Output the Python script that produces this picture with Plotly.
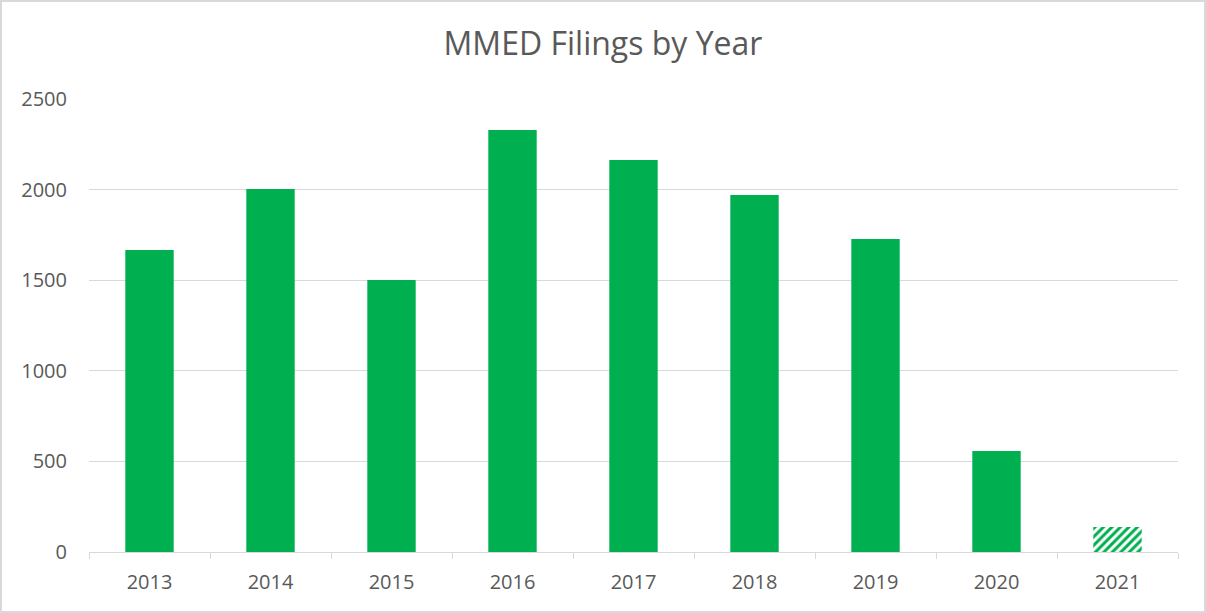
import plotly.graph_objects as go

years = ["2013", "2014", "2015", "2016", "2017", "2018", "2019", "2020", "2021"]
filings = [1667, 2003, 1501, 2329, 2163, 1970, 1727, 557, 138]
patterns = ["", "", "", "", "", "", "", "", "/"]
y_ticks = [0, 500, 1000, 1500, 2000, 2500]

GREEN = "#00B050"
TEXT = "#595959"
GRID = "#D9D9D9"
FONT = "Open Sans"

W, H = 1206, 613
ML, MR, MT, MB = 89, 28, 99, 61
PW, PH = W - ML - MR, H - MT - MB

fig = go.Figure(
    go.Bar(
        x=years,
        y=filings,
        marker=dict(
            color=GREEN,
            line=dict(width=0),
            pattern=dict(shape=patterns, fgcolor=GREEN, bgcolor="white",
                         fgopacity=1, size=6, solidity=0.5),
        ),
        hoverinfo="x+y",
    )
)

fig.update_layout(
    width=W,
    height=H,
    margin=dict(l=ML, r=MR, t=MT, b=MB, pad=0),
    paper_bgcolor="white",
    plot_bgcolor="white",
    bargap=0.6,
    showlegend=False,
    title=dict(
        text="MMED Filings by Year",
        x=0.5,
        xanchor="center",
        y=1 - 44 / H,
        yanchor="middle",
        font=dict(family=FONT, size=32, color=TEXT),
    ),
    font=dict(family=FONT, color=TEXT),
)

fig.update_xaxes(
    type="category",
    showgrid=False,
    showline=True,
    linecolor=GRID,
    linewidth=1,
    ticks="outside",
    tickson="boundaries",
    ticklen=6,
    tickcolor=GRID,
    tickwidth=1,
    ticklabelstandoff=12,
    tickfont=dict(family=FONT, size=20, color=TEXT),
)

fig.update_yaxes(
    range=[0, 2500],
    tickvals=y_ticks,
    showgrid=True,
    gridcolor=GRID,
    gridwidth=1,
    zeroline=False,
    showline=False,
    ticks="",
    ticklabelstandoff=21,
    tickfont=dict(family=FONT, size=20, color=TEXT),
)

# outer chart border
fig.add_shape(
    type="rect",
    xref="paper",
    yref="paper",
    x0=(1 - ML) / PW,
    x1=(W - 1 - ML) / PW,
    y0=-(MB - 1) / PH,
    y1=(PH + MT - 1) / PH,
    line=dict(color=GRID, width=2),
    fillcolor="rgba(0,0,0,0)",
    layer="above",
)

fig.write_html(
    "out.html",
    config={"displayModeBar": False},
    post_script="document.body.style.margin='0';document.body.style.overflow='hidden';",
)
